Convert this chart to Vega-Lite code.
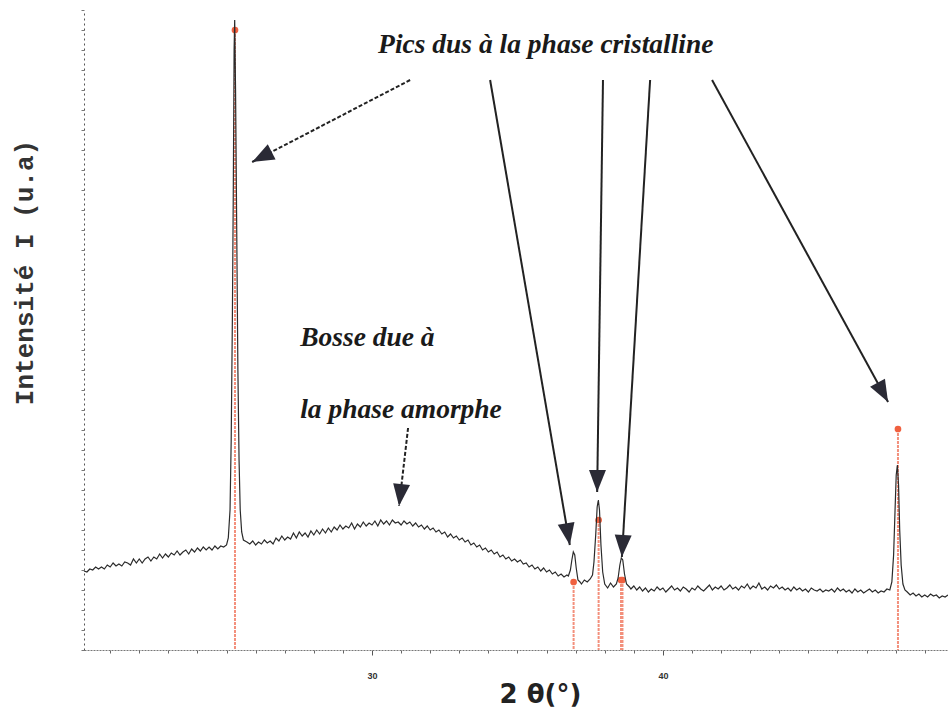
{
  "$schema": "https://vega.github.io/schema/vega-lite/v6.json",
  "width": 864,
  "height": 640,
  "autosize": {"type": "none"},
  "padding": {"left": 84, "top": 10, "right": 0, "bottom": 62},
  "background": "white",
  "config": {"view": {"stroke": null}},
  "datasets": {
    "xrd": [
      {"t":20.1,"i":79},{"t":20.2,"i":78},{"t":20.3,"i":81},{"t":20.4,"i":80},{"t":20.5,"i":83},{"t":20.6,"i":81},{"t":20.7,"i":83},{"t":20.8,"i":81},{"t":20.9,"i":85},{"t":21.0,"i":83},
      {"t":21.1,"i":87},{"t":21.2,"i":84},{"t":21.3,"i":86},{"t":21.4,"i":84},{"t":21.5,"i":88},{"t":21.6,"i":87},{"t":21.7,"i":85},{"t":21.8,"i":91},{"t":21.9,"i":87},{"t":22.0,"i":91},
      {"t":22.1,"i":87},{"t":22.2,"i":91},{"t":22.3,"i":93},{"t":22.4,"i":89},{"t":22.5,"i":93},{"t":22.6,"i":91},{"t":22.7,"i":96},{"t":22.8,"i":92},{"t":22.9,"i":96},{"t":23.0,"i":93},
      {"t":23.1,"i":97},{"t":23.2,"i":95},{"t":23.3,"i":99},{"t":23.4,"i":95},{"t":23.5,"i":98},{"t":23.6,"i":100},{"t":23.7,"i":96},{"t":23.8,"i":101},{"t":23.9,"i":98},{"t":24.0,"i":102},
      {"t":24.1,"i":99},{"t":24.2,"i":103},{"t":24.3,"i":100},{"t":24.4,"i":103},{"t":24.5,"i":100},{"t":24.6,"i":104},{"t":24.7,"i":101},{"t":24.8,"i":104},{"t":24.9,"i":103},{"t":25.0,"i":105},
      {"t":25.06,"i":112},{"t":25.12,"i":140},{"t":25.16,"i":210},{"t":25.2,"i":330},{"t":25.23,"i":450},{"t":25.26,"i":600},{"t":25.28,"i":630},{"t":25.31,"i":560},{"t":25.35,"i":420},{"t":25.39,"i":280},{"t":25.43,"i":190},{"t":25.47,"i":140},{"t":25.52,"i":118},{"t":25.58,"i":110},
      {"t":25.7,"i":108},{"t":25.8,"i":106},{"t":25.9,"i":109},{"t":26.0,"i":105},{"t":26.1,"i":108},{"t":26.2,"i":106},{"t":26.3,"i":110},{"t":26.4,"i":107},{"t":26.5,"i":109},{"t":26.6,"i":106},
      {"t":26.7,"i":112},{"t":26.8,"i":109},{"t":26.9,"i":114},{"t":27.0,"i":110},{"t":27.1,"i":113},{"t":27.2,"i":111},{"t":27.3,"i":117},{"t":27.4,"i":112},{"t":27.5,"i":118},{"t":27.6,"i":114},
      {"t":27.7,"i":117},{"t":27.8,"i":113},{"t":27.9,"i":119},{"t":28.0,"i":115},{"t":28.1,"i":120},{"t":28.2,"i":116},{"t":28.3,"i":121},{"t":28.4,"i":117},{"t":28.5,"i":122},{"t":28.6,"i":118},
      {"t":28.7,"i":123},{"t":28.8,"i":120},{"t":28.9,"i":125},{"t":29.0,"i":121},{"t":29.1,"i":124},{"t":29.2,"i":122},{"t":29.3,"i":127},{"t":29.4,"i":121},{"t":29.5,"i":126},{"t":29.6,"i":123},
      {"t":29.7,"i":128},{"t":29.8,"i":124},{"t":29.9,"i":127},{"t":30.0,"i":125},{"t":30.1,"i":129},{"t":30.2,"i":124},{"t":30.3,"i":130},{"t":30.4,"i":126},{"t":30.5,"i":129},{"t":30.6,"i":125},
      {"t":30.7,"i":130},{"t":30.8,"i":127},{"t":30.9,"i":128},{"t":31.0,"i":125},{"t":31.1,"i":129},{"t":31.2,"i":126},{"t":31.3,"i":128},{"t":31.4,"i":124},{"t":31.5,"i":127},{"t":31.6,"i":123},
      {"t":31.7,"i":125},{"t":31.8,"i":121},{"t":31.9,"i":124},{"t":32.0,"i":120},{"t":32.1,"i":122},{"t":32.2,"i":118},{"t":32.3,"i":120},{"t":32.4,"i":116},{"t":32.5,"i":118},{"t":32.6,"i":113},
      {"t":32.7,"i":116},{"t":32.8,"i":112},{"t":32.9,"i":114},{"t":33.0,"i":110},{"t":33.1,"i":112},{"t":33.2,"i":108},{"t":33.3,"i":110},{"t":33.4,"i":105},{"t":33.5,"i":107},{"t":33.6,"i":103},
      {"t":33.7,"i":105},{"t":33.8,"i":100},{"t":33.9,"i":102},{"t":34.0,"i":98},{"t":34.1,"i":100},{"t":34.2,"i":96},{"t":34.3,"i":98},{"t":34.4,"i":93},{"t":34.5,"i":95},{"t":34.6,"i":91},
      {"t":34.7,"i":93},{"t":34.8,"i":89},{"t":34.9,"i":91},{"t":35.0,"i":88},{"t":35.1,"i":90},{"t":35.2,"i":86},{"t":35.3,"i":87},{"t":35.4,"i":83},{"t":35.5,"i":85},{"t":35.6,"i":81},
      {"t":35.7,"i":83},{"t":35.8,"i":79},{"t":35.9,"i":82},{"t":36.0,"i":78},{"t":36.1,"i":80},{"t":36.2,"i":76},{"t":36.3,"i":78},{"t":36.4,"i":74},{"t":36.5,"i":76},{"t":36.6,"i":73},
      {"t":36.7,"i":75},{"t":36.75,"i":74},{"t":36.82,"i":80},{"t":36.87,"i":90},{"t":36.92,"i":98},{"t":36.97,"i":95},{"t":37.02,"i":82},{"t":37.08,"i":70},{"t":37.15,"i":68},{"t":37.2,"i":66},
      {"t":37.3,"i":70},{"t":37.4,"i":68},{"t":37.5,"i":71},{"t":37.58,"i":75},{"t":37.63,"i":88},{"t":37.69,"i":115},{"t":37.74,"i":143},{"t":37.78,"i":150},{"t":37.82,"i":140},{"t":37.87,"i":105},
      {"t":37.93,"i":78},{"t":38.0,"i":66},{"t":38.1,"i":62},{"t":38.2,"i":67},{"t":38.3,"i":63},{"t":38.4,"i":66},{"t":38.46,"i":72},{"t":38.52,"i":85},{"t":38.57,"i":92},{"t":38.62,"i":90},
      {"t":38.68,"i":76},{"t":38.75,"i":66},{"t":38.85,"i":63},{"t":38.9,"i":61},{"t":39.0,"i":64},{"t":39.1,"i":60},{"t":39.2,"i":63},{"t":39.3,"i":59},{"t":39.4,"i":62},{"t":39.5,"i":58},
      {"t":39.6,"i":61},{"t":39.7,"i":59},{"t":39.8,"i":63},{"t":39.9,"i":60},{"t":40.0,"i":62},{"t":40.1,"i":58},{"t":40.2,"i":61},{"t":40.3,"i":64},{"t":40.4,"i":60},{"t":40.5,"i":62},
      {"t":40.6,"i":59},{"t":40.7,"i":63},{"t":40.8,"i":61},{"t":40.9,"i":58},{"t":41.0,"i":62},{"t":41.1,"i":60},{"t":41.2,"i":64},{"t":41.3,"i":61},{"t":41.4,"i":59},{"t":41.5,"i":62},
      {"t":41.6,"i":65},{"t":41.7,"i":60},{"t":41.8,"i":63},{"t":41.9,"i":61},{"t":42.0,"i":64},{"t":42.1,"i":60},{"t":42.2,"i":62},{"t":42.3,"i":65},{"t":42.4,"i":61},{"t":42.5,"i":63},
      {"t":42.6,"i":60},{"t":42.7,"i":64},{"t":42.8,"i":62},{"t":42.9,"i":66},{"t":43.0,"i":61},{"t":43.1,"i":64},{"t":43.2,"i":62},{"t":43.3,"i":67},{"t":43.4,"i":61},{"t":43.5,"i":63},
      {"t":43.6,"i":60},{"t":43.7,"i":64},{"t":43.8,"i":62},{"t":43.9,"i":65},{"t":44.0,"i":61},{"t":44.1,"i":63},{"t":44.2,"i":60},{"t":44.3,"i":62},{"t":44.4,"i":59},{"t":44.5,"i":63},
      {"t":44.6,"i":60},{"t":44.7,"i":62},{"t":44.8,"i":59},{"t":44.9,"i":61},{"t":45.0,"i":58},{"t":45.1,"i":62},{"t":45.2,"i":60},{"t":45.3,"i":59},{"t":45.4,"i":61},{"t":45.5,"i":58},
      {"t":45.6,"i":60},{"t":45.7,"i":59},{"t":45.8,"i":61},{"t":45.9,"i":58},{"t":46.0,"i":62},{"t":46.1,"i":59},{"t":46.2,"i":61},{"t":46.3,"i":58},{"t":46.4,"i":60},{"t":46.5,"i":57},
      {"t":46.6,"i":61},{"t":46.7,"i":58},{"t":46.8,"i":60},{"t":46.9,"i":57},{"t":47.0,"i":59},{"t":47.1,"i":61},{"t":47.2,"i":58},{"t":47.3,"i":60},{"t":47.4,"i":57},{"t":47.5,"i":59},
      {"t":47.6,"i":58},{"t":47.7,"i":61},{"t":47.8,"i":60},{"t":47.87,"i":68},{"t":47.93,"i":95},{"t":47.98,"i":140},{"t":48.02,"i":175},{"t":48.06,"i":185},{"t":48.1,"i":165},{"t":48.14,"i":120},
      {"t":48.19,"i":85},{"t":48.25,"i":66},{"t":48.32,"i":60},{"t":48.4,"i":58},{"t":48.5,"i":55},{"t":48.6,"i":57},{"t":48.7,"i":54},{"t":48.8,"i":56},{"t":48.9,"i":53},{"t":49.0,"i":55},
      {"t":49.1,"i":53},{"t":49.2,"i":56},{"t":49.3,"i":54},{"t":49.4,"i":55},{"t":49.5,"i":52},{"t":49.6,"i":54},{"t":49.7,"i":53},{"t":49.8,"i":55}
    ],
    "ref": [
      {"t":25.29,"r":620},{"t":36.93,"r":68},{"t":37.79,"r":130},{"t":38.56,"r":70},{"t":38.61,"r":70},{"t":48.08,"r":221}
    ],
    "arrows": [
      {"id":1,"t1":31.31,"v1":570,"t2":25.88,"v2":488},
      {"id":2,"t1":34.06,"v1":570,"t2":36.8,"v2":105},
      {"id":3,"t1":37.94,"v1":570,"t2":37.74,"v2":158},
      {"id":4,"t1":39.56,"v1":570,"t2":38.59,"v2":93},
      {"id":5,"t1":41.69,"v1":570,"t2":47.74,"v2":248},
      {"id":6,"t1":31.24,"v1":222,"t2":30.93,"v2":144}
    ],
    "labels": [
      {"t":30.21,"v":605,"label":"Pics dus à la phase cristalline"},
      {"t":27.53,"v":312,"label":"Bosse due à"},
      {"t":27.53,"v":240,"label":"la phase amorphe"}
    ]
  },
  "resolve": {"scale": {"x": "independent"}, "axis": {"x": "independent"}},
  "layer": [
    {
      "data": {"name": "ref"},
      "mark": {"type": "rule", "opacity": 0},
      "encoding": {
        "x": {"field": "t", "type": "quantitative", "scale": {"domain": [20.1, 49.8], "nice": false, "zero": false},
          "axis": {
            "orient": "bottom", "title": null, "labels": false, "domain": false, "grid": false,
            "values": [21,22,23,24,25,26,27,28,29,31,32,33,34,35,36,37,38,39,41,42,43,44,45,46,47,48,49],
            "tickSize": 3, "tickColor": "#666", "tickRound": true
          }}
      }
    },
    {
      "layer": [
        {
          "data": {"name": "ref"},
          "mark": {"type": "rule", "color": "#f3907c", "strokeWidth": 2, "strokeDash": [3, 1]},
          "encoding": {
            "x": {"field": "t", "type": "quantitative", "scale": {"domain": [20.1, 49.8], "nice": false, "zero": false},
              "axis": {
                "orient": "bottom",
                "title": "2 θ(°)", "titleFont": "DejaVu Sans", "titleFontSize": 26, "titleFontWeight": "bold", "titleColor": "#222",
                "titleX": 456, "titleY": 52, "titleBaseline": "alphabetic",
                "values": [30, 40],
                "labelOverlap": false,
                "labelFontSize": 9, "labelColor": "#333", "labelPadding": 16, "labelFontWeight": "bold",
                "tickSize": 5, "tickColor": "#555", "tickRound": true, "domainColor": "#777", "domainDash": [2, 1], "grid": false
              }},
            "y": {"field": "r", "type": "quantitative", "scale": {"domain": [0, 640], "nice": false},
              "axis": {
                "title": "Intensité I (u.a)", "titleFont": "Liberation Mono", "titleFontSize": 26, "titleFontWeight": "bold", "titleColor": "#333",
                "titleAngle": 270, "titleX": -60, "titleY": 262, "titleAlign": "center", "titleBaseline": "middle",
                "labels": false, "tickCount": 30, "tickSize": 3, "tickColor": "#777", "domainColor": "#555", "domainDash": [2, 3], "grid": false
              }},
            "y2": {"datum": 0}
          }
        },
        {
          "data": {"name": "ref"},
          "mark": {"type": "point", "filled": true, "color": "#f0603f", "size": 45, "opacity": 1},
          "encoding": {
            "x": {"field": "t", "type": "quantitative"},
            "y": {"field": "r", "type": "quantitative"}
          }
        },
        {
          "data": {"name": "xrd"},
          "mark": {"type": "line", "color": "#2b2b2b", "strokeWidth": 1.2},
          "encoding": {
            "x": {"field": "t", "type": "quantitative"},
            "y": {"field": "i", "type": "quantitative"}
          }
        },
        {
          "data": {"name": "arrows"},
          "transform": [{"filter": "datum.id != 1 && datum.id != 6"}],
          "mark": {"type": "rule", "color": "#222", "strokeWidth": 2},
          "encoding": {
            "x": {"field": "t1", "type": "quantitative"},
            "y": {"field": "v1", "type": "quantitative"},
            "x2": {"field": "t2"},
            "y2": {"field": "v2"}
          }
        },
        {
          "data": {"name": "arrows"},
          "transform": [{"filter": "datum.id == 1 || datum.id == 6"}],
          "mark": {"type": "rule", "color": "#222", "strokeWidth": 2, "strokeDash": [4, 2]},
          "encoding": {
            "x": {"field": "t1", "type": "quantitative"},
            "y": {"field": "v1", "type": "quantitative"},
            "x2": {"field": "t2"},
            "y2": {"field": "v2"}
          }
        },
        {
          "data": {"name": "arrows"},
          "transform": [
            {"calculate": "(datum.t2 - datum.t1) * 29.09", "as": "dx"},
            {"calculate": "-(datum.v2 - datum.v1)", "as": "dy"},
            {"calculate": "sqrt(datum.dx * datum.dx + datum.dy * datum.dy)", "as": "len"},
            {"calculate": "atan2(datum.dx, -datum.dy) * 180 / PI", "as": "ang"},
            {"calculate": "datum.t2 - 11 * datum.dx / datum.len / 29.09", "as": "hx"},
            {"calculate": "datum.v2 + 11 * datum.dy / datum.len", "as": "hy"}
          ],
          "mark": {"type": "point", "shape": "M0,-1L0.77,1L-0.77,1Z", "filled": true, "color": "#2a2a35", "size": 484, "opacity": 1},
          "encoding": {
            "x": {"field": "hx", "type": "quantitative"},
            "y": {"field": "hy", "type": "quantitative"},
            "angle": {"field": "ang", "type": "quantitative", "scale": null}
          }
        },
        {
          "data": {"name": "labels"},
          "mark": {"type": "text", "align": "left", "baseline": "middle", "font": "Liberation Serif", "fontStyle": "italic", "fontWeight": "bold", "fontSize": 27.5, "color": "#1a1a1a"},
          "encoding": {
            "x": {"field": "t", "type": "quantitative"},
            "y": {"field": "v", "type": "quantitative"},
            "text": {"field": "label"}
          }
        }
      ]
    }
  ]
}
